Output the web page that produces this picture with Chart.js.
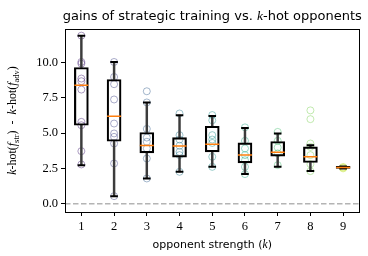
<!DOCTYPE html>
<html><head><meta charset="utf-8">
<script src="https://cdn.jsdelivr.net/npm/chart.js@4/dist/chart.umd.min.js"></script>
<style>html,body{margin:0;padding:0;background:#fff}canvas{display:block}</style>
</head><body>
<canvas id="c" width="368" height="256"></canvas>
<script>
// ---- data ----
const categories = [1, 2, 3, 4, 5, 6, 7, 8, 9];
const q1      = [5.55, 4.42, 3.60, 3.30, 3.67, 2.89, 3.37, 2.92, 2.50];
const q3      = [9.63, 8.78, 5.04, 4.68, 5.48, 4.30, 4.40, 4.02, 2.64];
const medians = [8.38, 6.19, 4.12, 4.09, 4.21, 3.44, 3.65, 3.32, 2.56];
const whiskLo = [2.73, 0.54, 1.79, 2.26, 2.61, 2.10, 2.61, 2.31, 2.50];
const whiskHi = [11.88, 10.02, 7.16, 6.26, 6.21, 5.36, 4.97, 4.14, 2.64];
const obs1 = [11.88, 10.02, 9.90, 8.85, 8.66, 8.07, 5.79, 5.55, 3.72, 2.78];
const obs2 = [10.02, 8.96, 8.45, 7.37, 5.67, 4.97, 4.73, 4.26, 2.85, 0.54];
const obs3 = [7.95, 7.16, 5.29, 4.68, 4.38, 3.91, 3.20, 1.79];
const obs4 = [6.38, 4.85, 4.54, 4.10, 3.67, 3.44, 2.26];
const obs5 = [6.27, 5.90, 4.85, 4.54, 4.30, 3.32, 2.61];
const obs6 = [5.40, 4.45, 3.91, 3.44, 3.08, 2.61, 2.10];
const obs7 = [5.08, 4.45, 3.98, 3.56, 2.73];
const obs8 = [6.60, 5.98, 4.26, 4.02, 3.44, 2.80, 2.31];
const obs9 = [2.60, 2.55, 2.50];
const observations = [obs1, obs2, obs3, obs4, obs5, obs6, obs7, obs8, obs9];
const yTicks = [0.0, 2.5, 5.0, 7.5, 10.0];
const xRange = [0.5, 9.5];
const yRange = [-0.58, 12.35];
const zeroLevel = 0;

// ---- styles ----
const pointColors = ['72,36,117','65,68,135','53,95,141','42,120,142','33,145,140','34,168,132','68,191,112','122,209,81','189,223,38'];
const serif = "'Liberation Serif', 'DejaVu Serif', serif";
const sans = "'DejaVu Sans', sans-serif";

const datasets = [];
// medians (top)
datasets.push({type:'scatter', order:1, data: categories.map((k,i)=>({x:k,y:medians[i]})),
  pointStyle:'line', pointRadius:7, pointHoverRadius:7, borderColor:'#ff7f0e', borderWidth:1.5, backgroundColor:'#ff7f0e'});
// caps
datasets.push({type:'scatter', order:2, data: categories.flatMap((k,i)=>[{x:k,y:whiskLo[i]},{x:k,y:whiskHi[i]}]),
  pointStyle:'line', pointRadius:3.8, pointHoverRadius:3.8, borderColor:'#000', borderWidth:2, backgroundColor:'#000'});
// boxes
datasets.push({type:'bar', order:3, grouped:false, barThickness:14,
  data: categories.map((k,i)=>({x:k,y:[q1[i],q3[i]]})),
  backgroundColor:'rgba(0,0,0,0)', borderColor:'#000', borderWidth:1.5, borderSkipped:false});
// whiskers
datasets.push({type:'bar', order:4, grouped:false, barThickness:1.8,
  data: categories.map((k,i)=>({x:k,y:[whiskLo[i],q1[i]]})), backgroundColor:'#3c3c3c', borderWidth:0});
datasets.push({type:'bar', order:4, grouped:false, barThickness:1.8,
  data: categories.map((k,i)=>({x:k,y:[q3[i],whiskHi[i]]})), backgroundColor:'#3c3c3c', borderWidth:0});
// observation points
observations.forEach((obs,i)=>{
  datasets.push({type:'scatter', order:5, data: obs.map(v=>({x:categories[i],y:v})),
    pointStyle:'circle', pointRadius:3.5, pointHoverRadius:3.5, borderWidth:1,
    borderColor:`rgba(${pointColors[i]},0.45)`, backgroundColor:'rgba(0,0,0,0)'});
});
// zero reference line
datasets.push({type:'line', order:6, data:[{x:xRange[0],y:zeroLevel},{x:xRange[1],y:zeroLevel}],
  borderColor:'#b4b4b4', borderWidth:1.5, borderDash:[5.5,2.5], pointRadius:0, fill:false});

function drawParts(ctx, parts, x, y, align){
  let total = 0;
  parts.forEach(p=>{ctx.font=p.font; total += ctx.measureText(p.t).width;});
  let cx = align==='center' ? x - total/2 : x;
  parts.forEach(p=>{ctx.font=p.font; ctx.fillText(p.t, cx, y + (p.dy||0)); cx += ctx.measureText(p.t).width;});
}

const deco = {
  id:'deco',
  afterDraw(chart){
    const {ctx, chartArea:a} = chart;
    ctx.save();
    ctx.strokeStyle='#000'; ctx.lineWidth=1;
    ctx.strokeRect(Math.round(a.left)+0.5, Math.round(a.top)+0.5, Math.round(a.right-a.left)-1, Math.round(a.bottom-a.top));
    ctx.fillStyle='#000'; ctx.textBaseline='alphabetic'; ctx.textAlign='left';
    const cx = (a.left+a.right)/2;
    // title
    drawParts(ctx, [
      {t:'gains of strategic training vs. ', font:`13px ${sans}`},
      {t:'k', font:`italic 13.5px ${serif}`},
      {t:'-hot opponents', font:`13px ${sans}`}
    ], cx, 20, 'center');
    // x label
    drawParts(ctx, [
      {t:'opponent strength (', font:`11px ${sans}`},
      {t:'k', font:`italic 11.5px ${serif}`},
      {t:')', font:`11px ${sans}`}
    ], cx, 248, 'center');
    // y label
    ctx.translate(16, (a.top+a.bottom)/2 + 0);
    ctx.rotate(-Math.PI/2);
    const f = `12px ${serif}`, fi = `italic 12px ${serif}`, fs = `8.5px ${serif}`;
    drawParts(ctx, [
      {t:'k', font:fi},{t:'-hot(', font:f},{t:'f', font:fi},{t:'str', font:fs, dy:2.5},{t:')  -  ', font:f},
      {t:'k', font:fi},{t:'-hot(', font:f},{t:'f', font:fi},{t:'adv', font:fs, dy:2.5},{t:')', font:f}
    ], 0, 0, 'center');
    ctx.restore();
  }
};

new Chart(document.getElementById('c'), {
  type:'bar',
  data:{datasets},
  options:{
    responsive:false, animation:false, devicePixelRatio:1,
    layout:{padding:{left:0, right:5, top:29, bottom:0}},
    plugins:{legend:{display:false}, tooltip:{enabled:false}, title:{display:false}},
    scales:{
      x:{type:'linear', min:xRange[0], max:xRange[1], offset:false,
        grid:{drawOnChartArea:false, drawTicks:true, tickLength:4, color:'#000', offset:false},
        border:{display:false},
        afterBuildTicks(s){ s.ticks = categories.map(v=>({value:v})); },
        afterFit(s){ s.height = 44; },
        ticks:{font:{family:serif, size:12.5}, color:'#000', padding:3, maxRotation:0,
          callback:(v)=>String(v)}
      },
      y:{type:'linear', min:yRange[0], max:yRange[1],
        grid:{drawOnChartArea:false, drawTicks:true, tickLength:4, color:'#000'},
        border:{display:false},
        afterBuildTicks(s){ s.ticks = yTicks.map(v=>({value:v})); },
        afterFit(s){ s.width = 65; },
        ticks:{font:{family:serif, size:12.5}, color:'#000', padding:3,
          callback:(v)=>Number(v).toFixed(1)}
      }
    }
  },
  plugins:[deco]
});
</script>
</body></html>
